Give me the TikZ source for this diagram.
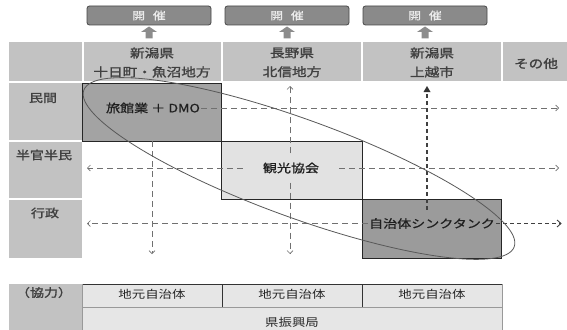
\documentclass[tikz,border=0pt]{standalone}
\usepackage{fontspec}
\setmainfont[FakeStretch=1.22]{Noto Sans CJK JP}
\newfontfamily\jpsemi[FakeStretch=1.22,FakeBold=1.5]{Noto Sans CJK JP}
\newfontfamily\jpmid[FakeStretch=1.22,FakeBold=0.8]{Noto Sans CJK JP}
\usetikzlibrary{arrows.meta,calc}
\definecolor{hdr}{HTML}{C2C2C2}
\definecolor{hdrtxt}{HTML}{404040}
\definecolor{dark}{HTML}{A3A3A3}
\definecolor{light}{HTML}{E2E2E2}
\definecolor{tbl}{HTML}{E6E6E6}
\definecolor{topbox}{HTML}{8A8A8A}
\definecolor{dashc}{HTML}{707070}
\begin{document}
\begin{tikzpicture}[x=1pt,y=-1pt,
  topboxst/.style={draw=black!72,fill=topbox,rounded corners=2.5pt,line width=0.8pt},
  toptxt/.style={text=white!92!black,font=\jpmid\fontsize{10.5}{10}\selectfont},
  hdrcell/.style={fill=hdr,draw=none},
  hdrtext/.style={text=hdrtxt,align=center,font=\jpsemi\fontsize{12}{19}\selectfont},
  lbltext/.style={text=hdrtxt,font=\jpsemi\fontsize{11.5}{12}\selectfont},
  boxtxt/.style={text=black!88,font=\jpmid\fontsize{11.5}{12}\selectfont,inner sep=1pt},
  rolebox/.style={draw=black!85,line width=0.8pt},
  thin/.style={draw=dashc,line width=0.6pt,dash pattern=on 6pt off 4pt,-{Straight Barb[length=3pt,width=6pt]}},
  thick/.style={draw=black!75,line width=1.6pt,dash pattern=on 4pt off 3pt},
  blockarrow/.style={fill=black!45,draw=none},
  tbltxt/.style={text=black!85,font=\fontsize{11}{12}\selectfont},
  ell/.style={draw=black!65,line width=0.8pt}
]
\useasboundingbox (0,0) rectangle (567,329);
\fill[white] (0,0) rectangle (567,329);
\begin{scope}
\clip (0,0) rectangle (567,329);
% top boxes
\foreach \i/\xx in {1/87,2/225,3/363}{
  \draw[topboxst] (\xx,6) rectangle ++(124,19);
  \node[toptxt] (top\i) at (\xx+62,15.5) {開\hspace{0.75em}催};
  \fill[blockarrow] (\xx+54,32) -- (\xx+62,26.5) -- (\xx+70,32) -- (\xx+65.5,32) -- (\xx+65.5,38.5) -- (\xx+58.5,38.5) -- (\xx+58.5,32) -- cycle;
}
% header row
\fill[hdrcell] (9,42) rectangle (82,81);
\fill[hdrcell] (83.5,42) rectangle (221,81);
\fill[hdrcell] (222.5,42) rectangle (361,81);
\fill[hdrcell] (362.5,42) rectangle (501,81);
\fill[hdrcell] (502.5,42) rectangle (567,81);
\node[hdrtext] (h1) at (152,62.5) {新潟県\\十日町・魚沼地方};
\node[hdrtext] (h2) at (292,62.5) {長野県\\北信地方};
\node[hdrtext] (h3) at (432,62.5) {新潟県\\上越市};
\node[hdrtext] (h4) at (536,63.5) {その他};
% row labels
\fill[hdrcell] (9,83) rectangle (82,140.3);
\fill[hdrcell] (9,141.7) rectangle (82,198.3);
\fill[hdrcell] (9,199.7) rectangle (82,258);
\node[lbltext] (r1) at (43,98) {民間};
\node[lbltext] (r2) at (44,155) {半官半民};
\node[lbltext] (r3) at (45,213) {行政};
% role boxes
\draw[rolebox,fill=dark] (82,83) rectangle (221,141);
\draw[rolebox,fill=light] (221,141) rectangle (362,199);
\draw[rolebox,fill=dark!95!black] (362,199) rectangle (501,258);
\node[boxtxt] (b1) at (153,108) {旅館業 ＋ DMO};
\node[boxtxt,inner xsep=20pt,inner ysep=9pt] (b2) at (291,168) {観光協会};
\node[boxtxt,inner ysep=8pt] (b3) at (432,223.5) {自治体シンクタンク};
% end points
\coordinate (e1r) at (559,108);
\coordinate (e2l) at (87,168);
\coordinate (e2r) at (559,168);
\coordinate (e3l) at (87,223.5);
\coordinate (e3r) at (561,223.5);
\coordinate (v1t) at (152,141);
\coordinate (v1b) at (152,254);
\coordinate (v2t) at (290,86);
\coordinate (v2b) at (290,254);
\coordinate (v3t) at (427,86);
% dashed connectors
\draw[thin] (b1.east) -- (e1r);
\draw[thin] (v1t) -- (v1b);
\draw[thin] (b2.west) -- (e2l);
\draw[thin] (b2.east) -- (e2r);
\draw[thin] (b2.north -| v2t) -- (v2t);
\draw[thin] (b2.south -| v2b) -- (v2b);
\draw[thin] (b3.west) -- (e3l);
\draw[thick] (b3.east) -- (e3r);
\draw[black!75,line width=0.9pt] ($(e3r)+(-4,-3.5)$) -- (e3r) -- ($(e3r)+(-4,3.5)$);
\draw[thick] (b3.north -| v3t) -- ($(v3t)+(0,5)$);
\fill[black!80] (v3t) -- ++(3.5,6) -- ++(-7,0) -- cycle;
% ellipse
\draw[ell] (299,168.5) ellipse [x radius=229pt, y radius=49pt, rotate=-20];
% cooperation table
\fill[hdrcell] (9,284) rectangle (82,335);
\fill[tbl] (82,284) rectangle (502,335);
\draw[black!80,line width=0.8pt] (82,284) -- (502,284);
\draw[black!40,line width=0.5pt] (82,307) -- (502,307);
\draw[black!40,line width=0.5pt] (82,284) -- (82,335);
\draw[black!40,line width=0.5pt] (502,284) -- (502,335);
\draw[black!80,line width=0.8pt] (222,284) -- (222,307);
\draw[black!80,line width=0.8pt] (362,284) -- (362,307);
\node[lbltext] (kyo) at (44,292.5) {（協力）};
\node[tbltxt] (t1) at (152,294) {地元自治体};
\node[tbltxt] (t2) at (292,294) {地元自治体};
\node[tbltxt] (t3) at (432,294) {地元自治体};
\node[tbltxt] (t4) at (292,322) {県振興局};
\end{scope}
\end{tikzpicture}
\end{document}
